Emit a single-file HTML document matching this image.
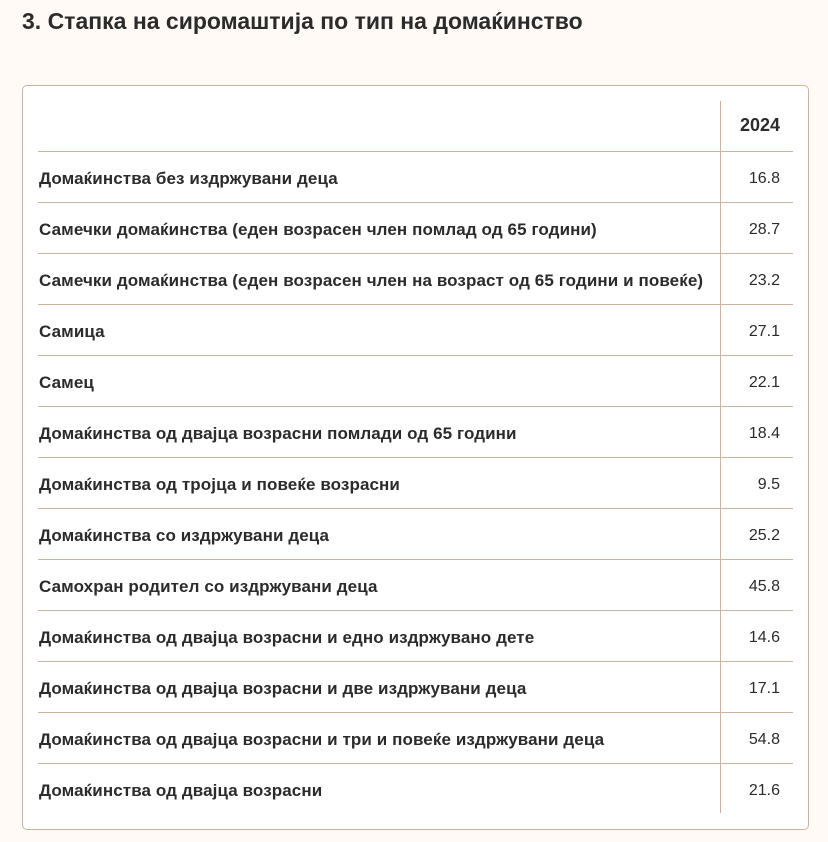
<!DOCTYPE html>
<html><head><meta charset="utf-8"><style>
html,body{margin:0;padding:0;background:#fffaf6;width:828px;height:842px;overflow:hidden;font-family:"Liberation Sans",sans-serif;color:#2b2b2b}
h1{position:absolute;left:22px;top:5px;margin:0;font-size:23px;font-weight:bold;line-height:32px}
.box{position:absolute;left:22px;top:85px;width:785px;height:743px;border:1px solid #cbb49f;border-radius:5px;background:#fff}
.vl{position:absolute;left:697px;top:15px;width:1px;height:712px;background:#cbb49f}
.row{position:absolute;left:15px;width:755px;height:51px;border-top:1px solid #cbb49f}
.row .l{position:absolute;left:1px;top:1px;line-height:51px;font-weight:bold;font-size:17px;white-space:nowrap;letter-spacing:0.1px}
.row .v{position:absolute;right:13px;top:1px;line-height:51px;font-size:16px}
.hd{position:absolute;right:28px;top:29px;font-weight:bold;font-size:18px}
</style></head><body>
<h1>3. Стапка на сиромаштија по тип на домаќинство</h1>
<div class="box">
<div class="vl"></div>
<div class="hd">2024</div>
<div class="row" style="top:65px"><span class="l">Домаќинства без издржувани деца</span><span class="v">16.8</span></div>
<div class="row" style="top:116px"><span class="l">Самечки домаќинства (еден возрасен член помлад од 65 години)</span><span class="v">28.7</span></div>
<div class="row" style="top:167px"><span class="l">Самечки домаќинства (еден возрасен член на возраст од 65 години и повеќе)</span><span class="v">23.2</span></div>
<div class="row" style="top:218px"><span class="l">Самица</span><span class="v">27.1</span></div>
<div class="row" style="top:269px"><span class="l">Самец</span><span class="v">22.1</span></div>
<div class="row" style="top:320px"><span class="l">Домаќинства од двајца возрасни помлади од 65 години</span><span class="v">18.4</span></div>
<div class="row" style="top:371px"><span class="l">Домаќинства од тројца и повеќе возрасни</span><span class="v">9.5</span></div>
<div class="row" style="top:422px"><span class="l">Домаќинства со издржувани деца</span><span class="v">25.2</span></div>
<div class="row" style="top:473px"><span class="l">Самохран родител со издржувани деца</span><span class="v">45.8</span></div>
<div class="row" style="top:524px"><span class="l">Домаќинства од двајца возрасни и едно издржувано дете</span><span class="v">14.6</span></div>
<div class="row" style="top:575px"><span class="l">Домаќинства од двајца возрасни и две издржувани деца</span><span class="v">17.1</span></div>
<div class="row" style="top:626px"><span class="l">Домаќинства од двајца возрасни и три и повеќе издржувани деца</span><span class="v">54.8</span></div>
<div class="row" style="top:677px"><span class="l">Домаќинства од двајца возрасни</span><span class="v">21.6</span></div>
</div>
</body></html>
